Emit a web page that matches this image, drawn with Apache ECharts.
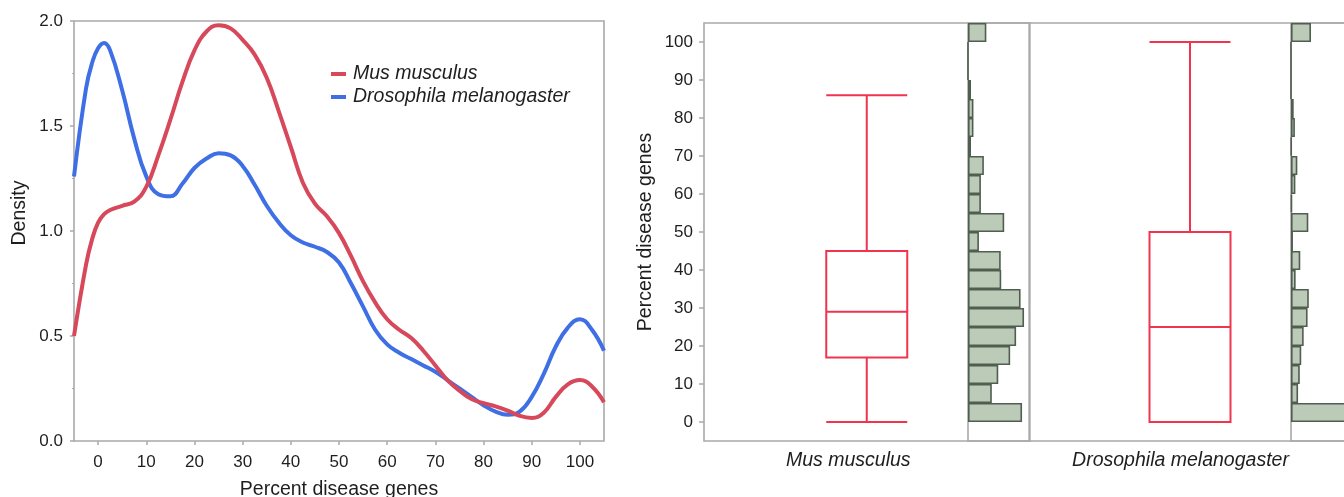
<!DOCTYPE html>
<html>
<head>
<meta charset="utf-8">
<script src="https://cdn.jsdelivr.net/npm/echarts@6/dist/echarts.min.js"></script>
<style>
  html, body { margin: 0; padding: 0; background: #fff; }
  #chart { width: 1344px; height: 497px; }
</style>
</head>
<body>
<div id="chart"></div>
<script>
// Kernel density of the share of disease genes per group
const densityX = [-5, -2.5, -1.25, 0, 1.25, 2.5, 5, 7.5, 10, 12.5, 15, 17.5, 20, 22.5, 25, 27.5, 30, 32.5, 35, 37.5, 40, 42.5, 45, 47.5, 50, 52.5, 55, 57.5, 60, 62.5, 65, 67.5, 70, 72.5, 75, 77.5, 80, 82.5, 85, 87.5, 90, 92.5, 95, 97.5, 100, 102.5, 105];
const musDensity = [0.50, 0.84, 0.96, 1.04, 1.08, 1.10, 1.12, 1.14, 1.21, 1.36, 1.53, 1.71, 1.86, 1.95, 1.98, 1.965, 1.91, 1.84, 1.73, 1.57, 1.40, 1.23, 1.13, 1.07, 0.99, 0.88, 0.76, 0.66, 0.58, 0.53, 0.49, 0.43, 0.36, 0.29, 0.24, 0.20, 0.18, 0.165, 0.145, 0.12, 0.11, 0.135, 0.21, 0.27, 0.29, 0.26, 0.185];
const drosDensity = [1.26, 1.68, 1.80, 1.87, 1.895, 1.86, 1.67, 1.44, 1.26, 1.175, 1.165, 1.225, 1.30, 1.345, 1.37, 1.36, 1.31, 1.22, 1.12, 1.04, 0.98, 0.945, 0.925, 0.90, 0.85, 0.75, 0.64, 0.53, 0.46, 0.42, 0.39, 0.36, 0.33, 0.29, 0.25, 0.21, 0.17, 0.14, 0.125, 0.14, 0.21, 0.32, 0.45, 0.54, 0.58, 0.53, 0.43];

const speciesNames = ['Mus musculus', 'Drosophila melanogaster'];

// Box summaries: [min, Q1, median, Q3, max]
const musBox = [0, 17, 29, 45, 86];
const drosBox = [0, 0, 25, 50, 100];

// Histogram bins (lower edge, width 5) and share of groups per bin (%)
const binStarts = [0, 5, 10, 15, 20, 25, 30, 35, 40, 45, 50, 55, 60, 65, 70, 75, 80, 85, 90, 95, 100];
const musHist = [10.9, 4.8, 6.1, 8.5, 9.7, 11.3, 10.6, 6.7, 6.6, 2.2, 7.3, 2.6, 2.6, 3.2, 0.6, 1.1, 1.1, 0.6, 0, 0, 3.7];
const drosHist = [40.5, 2.9, 3.6, 4.2, 5.2, 6.8, 7.3, 1.9, 3.8, 0.8, 7.1, 0.4, 1.8, 2.6, 0.2, 1.6, 1.1, 0, 0, 0, 8.2];

// Tick labels
const densityTicks = [0, 0.5, 1.0, 1.5, 2.0];
const percentTicks = [0, 10, 20, 30, 40, 50, 60, 70, 80, 90, 100];

const FONT = '"Liberation Sans", Arial, Helvetica, sans-serif';
const GRAY = '#a9a9a9';
const TEXT = '#1e1e1e';
const RED_LINE = '#d6485a';
const BLUE_LINE = '#3f6fe4';
const BOX_RED = '#f0344e';
const HIST_FILL = '#bccab8';
const HIST_EDGE = '#4f5e4f';

// Category bands of 5 units; the first band covers the padding from -5 to 0
const histCats = [-5].concat(binStarts).map(String);
const withPad = arr => [null].concat(arr);

const tickLabel = { color: TEXT, fontSize: 17, fontFamily: FONT };
const titleStyle = { color: TEXT, fontSize: 19.5, fontFamily: FONT };

const frame = {
  show: true, borderColor: GRAY, borderWidth: 1.6, backgroundColor: 'transparent',
  outerBoundsMode: 'none', containLabel: false
};

const chart = echarts.init(document.getElementById('chart'), null, { renderer: 'canvas' });

chart.setOption({
  animation: false,
  backgroundColor: '#fff',
  textStyle: { fontFamily: FONT },
  legend: {
    data: speciesNames,
    orient: 'vertical',
    left: 326,
    top: 59,
    icon: 'rect',
    itemWidth: 15,
    itemHeight: 4,
    itemGap: 3,
    selectedMode: false,
    textStyle: { color: TEXT, fontSize: 19.5, fontStyle: 'italic', fontFamily: FONT, lineHeight: 20, padding: [0, 0, 0, 2] }
  },
  grid: [
    Object.assign({ left: 74, top: 21, width: 530, height: 420 }, frame),
    Object.assign({ left: 704, top: 23, width: 325.5, height: 418 }, frame),
    Object.assign({ left: 968, top: 23, width: 61.5, height: 418 }, frame),
    Object.assign({ left: 1029.5, top: 23, width: 321, height: 418 }, frame),
    Object.assign({ left: 1291, top: 23, width: 109, height: 418 }, frame)
  ],
  xAxis: [
    {
      gridIndex: 0, type: 'value', min: -5, max: 105,
      axisLine: { show: false, onZero: false },
      axisTick: { show: true, length: 4, lineStyle: { color: GRAY, width: 1.5 }, customValues: percentTicks },
      axisLabel: Object.assign({ margin: 13, customValues: percentTicks }, tickLabel),
      splitLine: { show: false },
      name: 'Percent disease genes', nameLocation: 'middle', nameGap: 39,
      nameTextStyle: titleStyle
    },
    {
      gridIndex: 1, type: 'category', data: [speciesNames[0]],
      axisLine: { show: false }, axisTick: { show: false },
      axisLabel: { margin: 10, color: TEXT, fontSize: 19.5, fontStyle: 'italic', fontFamily: FONT, padding: [0, 37, 0, 0] }
    },
    {
      gridIndex: 2, type: 'value', min: 0, max: 12.4, show: false, splitLine: { show: false }
    },
    {
      gridIndex: 3, type: 'category', data: [speciesNames[1]],
      axisLine: { show: false }, axisTick: { show: false },
      axisLabel: { margin: 10, color: TEXT, fontSize: 19.5, fontStyle: 'italic', fontFamily: FONT, padding: [0, 19, 0, 0] }
    },
    {
      gridIndex: 4, type: 'value', min: 0, max: 44.7, show: false, splitLine: { show: false }
    }
  ],
  yAxis: [
    {
      gridIndex: 0, type: 'value', min: 0, max: 2, interval: 0.5,
      axisLine: { show: false, onZero: false },
      axisTick: { show: true, length: 4, lineStyle: { color: GRAY, width: 1.5 } },
      minorTick: { show: true, splitNumber: 2, length: 2, lineStyle: { color: GRAY, width: 1.2 } },
      axisLabel: Object.assign({ margin: 11, formatter: v => densityTicks.indexOf(v) >= 0 ? v.toFixed(1) : '' }, tickLabel),
      splitLine: { show: false },
      name: 'Density', nameLocation: 'middle', nameGap: 44, nameRotate: 90,
      nameTextStyle: Object.assign({ padding: [0, 0, 0, 36] }, titleStyle)
    },
    {
      gridIndex: 1, type: 'value', min: -5, max: 105,
      axisLine: { show: false, onZero: false },
      axisTick: { show: true, length: 5, lineStyle: { color: GRAY, width: 1.5 }, customValues: percentTicks },
      axisLabel: Object.assign({ margin: 11, customValues: percentTicks }, tickLabel),
      splitLine: { show: false },
      name: 'Percent disease genes', nameLocation: 'middle', nameGap: 48, nameRotate: 90,
      nameTextStyle: titleStyle
    },
    {
      gridIndex: 2, type: 'category', data: histCats, show: false, boundaryGap: true
    },
    {
      gridIndex: 3, type: 'value', min: -5, max: 105, show: false, splitLine: { show: false }
    },
    {
      gridIndex: 4, type: 'category', data: histCats, show: false, boundaryGap: true
    }
  ],
  series: [
    {
      name: speciesNames[0], type: 'line', xAxisIndex: 0, yAxisIndex: 0,
      data: densityX.map((x, i) => [x, musDensity[i]]),
      smooth: 0.45, showSymbol: false, clip: true,
      lineStyle: { color: RED_LINE, width: 4 }, itemStyle: { color: RED_LINE },
      z: 3
    },
    {
      name: speciesNames[1], type: 'line', xAxisIndex: 0, yAxisIndex: 0,
      data: densityX.map((x, i) => [x, drosDensity[i]]),
      smooth: 0.45, showSymbol: false, clip: true,
      lineStyle: { color: BLUE_LINE, width: 4 }, itemStyle: { color: BLUE_LINE },
      z: 2
    },
    {
      type: 'boxplot', xAxisIndex: 1, yAxisIndex: 1,
      data: [musBox], boxWidth: [81, 81],
      itemStyle: { color: '#fff', borderColor: BOX_RED, borderWidth: 2 },
      emphasis: { disabled: true }
    },
    {
      type: 'bar', xAxisIndex: 2, yAxisIndex: 2,
      data: withPad(musHist), barWidth: '100%', barCategoryGap: 0,
      itemStyle: { color: HIST_FILL, borderColor: HIST_EDGE, borderWidth: 1.6 },
      emphasis: { disabled: true }
    },
    {
      type: 'boxplot', xAxisIndex: 3, yAxisIndex: 3,
      data: [drosBox], boxWidth: [81, 81],
      itemStyle: { color: '#fff', borderColor: BOX_RED, borderWidth: 2 },
      emphasis: { disabled: true }
    },
    {
      type: 'bar', xAxisIndex: 4, yAxisIndex: 4,
      data: withPad(drosHist), barWidth: '100%', barCategoryGap: 0,
      itemStyle: { color: HIST_FILL, borderColor: HIST_EDGE, borderWidth: 1.6 },
      emphasis: { disabled: true }
    }
  ]
});
</script>
</body>
</html>
